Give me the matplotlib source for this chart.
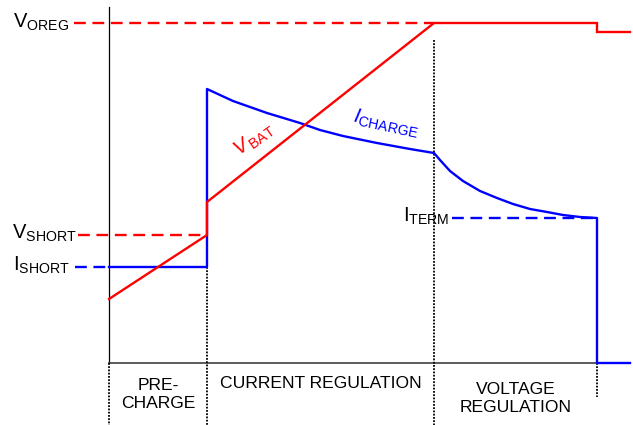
#!/usr/bin/python3
# -*- coding: utf-8 -*-

"""
Li-ion charge profile: pre-charge, current regulation, voltage regulation
"""

import matplotlib
matplotlib.use("Agg")
import matplotlib.pyplot as plt

plt.rcParams['font.family'] = ['Liberation Sans', 'DejaVu Sans']
plt.rcParams['mathtext.fontset'] = 'custom'
plt.rcParams['mathtext.rm'] = 'Liberation Sans'
plt.rcParams['mathtext.it'] = 'Liberation Sans:italic'

# time axis: phase boundaries (start, fast charge, CV, termination, end)
t_start = 109
t_cc = 207
t_cv = 434
t_term = 597
t_end = 630

# levels (height above the time axis)
V_OREG = 340
V_OREG_DONE = 331
V_SHORT = 128
I_SHORT = 96
I_TERM = 145

# battery voltage
vbat_t = [109, 207, 207, 434, 597, 597, 630]
vbat_v = [64, 128, 161, 340, 340, 331, 331]

# charge current
ichg_t = [109, 207, 207, 233, 267, 300, 320, 343, 377, 410, 434,
          440, 450, 463, 480, 497, 513, 530, 547, 563, 580, 597, 597, 630]
ichg_i = [96, 96, 274, 262, 250, 240, 233, 227, 220, 214, 210,
          203, 192, 182, 172, 165, 159, 154, 151, 148, 146, 145, 0, 0]

phase_names = ["PRE-\nCHARGE", "CURRENT REGULATION", "VOLTAGE\nREGULATION"]

RED = "#ff0000"
BLUE = "#0000ff"

fig = plt.figure(figsize=(6.33, 4.25), dpi=100)
ax = fig.add_axes([0, 0, 1, 1])
ax.set_xlim(0, 633)
ax.set_ylim(-62, 363)
ax.axis("off")

# axes of the sketch
ax.plot([t_start, t_start], [0, 356], color="black", lw=0.9)
ax.plot([t_start, t_term], [0, 0], color="#404040", lw=1.2)

# phase separators
dots = dict(color="black", lw=1.3, linestyle=(0, (1, 0.8)))
ax.plot([t_start, t_start], [0, -62], **dots)
ax.plot([t_cc, t_cc], [I_SHORT, -62], **dots)
ax.plot([t_cv, t_cv], [323, -62], **dots)
ax.plot([t_term, t_term], [0, -34], **dots)

# threshold guides
dash = dict(lw=1.7, linestyle=(0, (5, 2.8)))
ax.plot([74, t_cv], [V_OREG, V_OREG], color=RED, **dash)
ax.plot([78, t_cc], [V_SHORT, V_SHORT], color=RED, **dash)
ax.plot([75, t_start], [I_SHORT, I_SHORT], color=BLUE, **dash)
ax.plot([452, t_term], [I_TERM, I_TERM], color=BLUE, **dash)

# curves
ax.plot(ichg_t, ichg_i, color=BLUE, lw=1.7, solid_joinstyle="round")
ax.plot(vbat_t, vbat_v, color=RED, lw=1.7, solid_joinstyle="miter")

# level labels
fs = 14.5
ax.text(69, 341, r"$\mathrm{V}_{\mathrm{OREG}}$", fontsize=fs, ha="right", va="center")
ax.text(77, 130, r"$\mathrm{V}_{\mathrm{SHORT}}$", fontsize=fs, ha="right", va="center")
ax.text(70, 98, r"$\mathrm{I}_{\mathrm{SHORT}}$", fontsize=fs, ha="right", va="center")
ax.text(449, 147, r"$\mathrm{I}_{\mathrm{TERM}}$", fontsize=fs, ha="right", va="center")

# curve labels
ax.text(254, 223, r"$\mathit{V}_{\,\mathrm{BAT}}$", fontsize=fs, color=RED,
        ha="center", va="center", rotation=35, rotation_mode="anchor")
ax.text(386, 239, r"$\mathit{I}_{\mathrm{CHARGE}}$", fontsize=fs, color=BLUE,
        ha="center", va="center", rotation=-12, rotation_mode="anchor")

# phase names under the time axis
ax.text((t_start + t_cc) / 2, -31, phase_names[0], fontsize=12.6, ha="center", va="center",
        linespacing=1.25)
ax.text((t_cc + t_cv) / 2, -21, phase_names[1], fontsize=12.6, ha="center", va="center")
ax.text((t_cv + t_term) / 2, -35, phase_names[2], fontsize=12.6, ha="center", va="center",
        linespacing=1.25)

fig.savefig("out.png", dpi=100)
